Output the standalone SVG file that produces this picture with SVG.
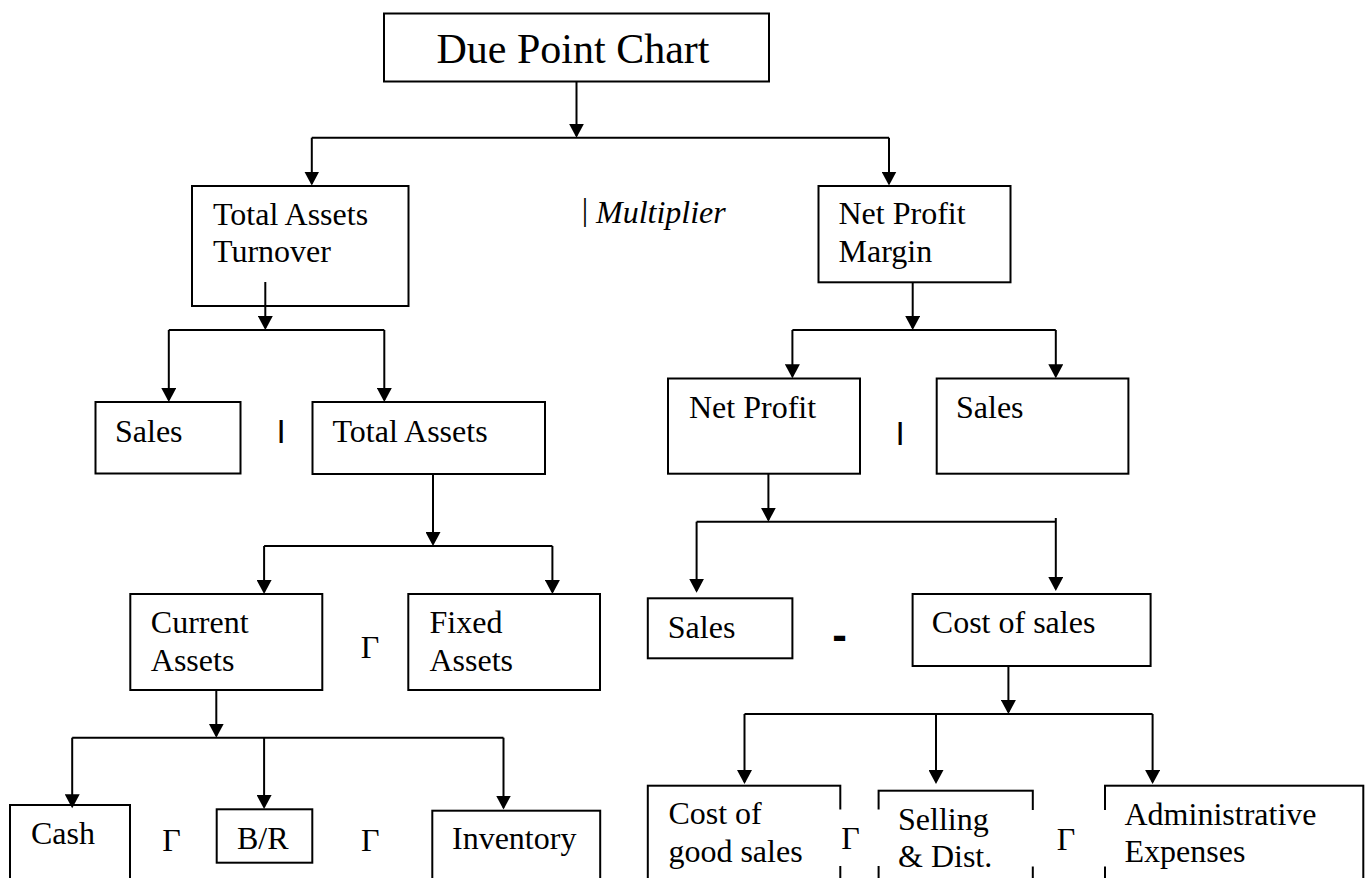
<svg xmlns="http://www.w3.org/2000/svg" width="1371" height="878" viewBox="0 0 1371 878">
<defs>
<style>
.box{fill:#fff;stroke:#000;stroke-width:2}
.t{font-family:"Liberation Serif","Times New Roman",serif;font-size:32px;fill:#000}
.title{font-size:42px}
.it{font-style:italic}
.bar{font-family:"Liberation Sans",Arial,sans-serif;font-weight:bold;font-size:24px;text-anchor:middle;fill:#000}
.minus{font-family:"Liberation Sans",Arial,sans-serif;font-weight:bold;font-size:44px;text-anchor:middle;fill:#000}
.c{fill:none;stroke:#000;stroke-width:2}
.arr{marker-end:url(#ah)}
.mask{fill:#fff;stroke:none}
</style>
<marker id="ah" markerUnits="userSpaceOnUse" markerWidth="15" markerHeight="15" refX="12" refY="7.5" orient="auto"><path d="M0,0 L14,7.5 L0,15 z" fill="#000"/></marker>
</defs>
<rect width="1371" height="878" fill="#fff"/>

<g id="node-title"><rect class="box" x="384" y="13.5" width="385" height="68"/><text class="t title" x="436.5" y="63">Due Point Chart</text></g>
<g id="node-total-assets-turnover"><rect class="box" x="192" y="186" width="216.5" height="120"/><text class="t"><tspan x="213" y="225">Total Assets</tspan><tspan x="213" y="262">Turnover</tspan></text></g>
<g id="op-multiplier"><text class="t" x="585" y="220" text-anchor="middle">|</text><text class="t it" x="596" y="223">Multiplier</text></g>
<g id="node-net-profit-margin"><rect class="box" x="818.5" y="186" width="192" height="96.3"/><text class="t"><tspan x="838.5" y="224.3">Net Profit</tspan><tspan x="838.5" y="261.7">Margin</tspan></text></g>

<g id="node-sales-1"><rect class="box" x="95.5" y="402" width="145" height="71.5"/><text class="t" x="115" y="441.7">Sales</text></g>
<g id="op-div-1"><text class="bar" x="281" y="438.3">|</text></g>
<g id="node-total-assets"><rect class="box" x="312.5" y="402" width="232.5" height="72"/><text class="t" x="332.5" y="441.7">Total Assets</text></g>

<g id="node-net-profit"><rect class="box" x="668" y="378.5" width="192" height="95.2"/><text class="t" x="689" y="417.5">Net Profit</text></g>
<g id="op-div-2"><text class="bar" x="900" y="440">|</text></g>
<g id="node-sales-2"><rect class="box" x="936.7" y="378.5" width="191.7" height="95.2"/><text class="t" x="956" y="417.5">Sales</text></g>

<g id="node-current-assets"><rect class="box" x="130.3" y="594" width="192" height="96"/><text class="t"><tspan x="150.8" y="633.3">Current</tspan><tspan x="150.8" y="670.7">Assets</tspan></text></g>
<g id="op-plus-1"><text class="t" x="360.7" y="657.7">Γ</text></g>
<g id="node-fixed-assets"><rect class="box" x="408.3" y="594" width="191.7" height="96"/><text class="t"><tspan x="429.5" y="633.3">Fixed</tspan><tspan x="429.5" y="670.7">Assets</tspan></text></g>

<g id="node-sales-3"><rect class="box" x="647.8" y="598.3" width="144.6" height="60"/><text class="t" x="667.8" y="638.3">Sales</text></g>
<g id="op-minus"><text class="minus" x="839.5" y="650">-</text></g>
<g id="node-cost-of-sales"><rect class="box" x="912.6" y="594" width="238" height="72"/><text class="t" x="931.8" y="633.3">Cost of sales</text></g>

<g id="node-cash"><rect class="box" x="10" y="805" width="120" height="90"/><text class="t" x="31" y="844.3">Cash</text></g>
<g id="op-plus-2"><text class="t" x="162.3" y="851">Γ</text></g>
<g id="node-br"><rect class="box" x="216.7" y="809.3" width="95.6" height="53.4"/><text class="t" x="237" y="849">B/R</text></g>
<g id="op-plus-3"><text class="t" x="361" y="851">Γ</text></g>
<g id="node-inventory"><rect class="box" x="432.3" y="810.7" width="167.9" height="90"/><text class="t" x="452" y="849.3">Inventory</text></g>

<g id="node-cost-of-good-sales"><rect class="box" x="647.8" y="785.7" width="192.5" height="110"/><text class="t"><tspan x="668.4" y="824.3">Cost of</tspan><tspan x="668.4" y="861.7">good sales</tspan></text></g>
<g id="node-selling-dist"><rect class="box" x="878.6" y="790.7" width="154.2" height="110"/><text class="t"><tspan x="898" y="830">Selling</tspan><tspan x="898" y="866.7">&amp; Dist.</tspan></text></g>
<g id="node-administrative-expenses"><rect class="box" x="1105" y="785.7" width="258.3" height="110"/><text class="t"><tspan x="1124.5" y="825">Administrative</tspan><tspan x="1124.5" y="862">Expenses</tspan></text></g>
<g id="op-plus-4"><rect class="mask" x="835" y="809.5" width="49" height="56.5"/><text class="t" x="841.3" y="849.3">Γ</text></g>
<g id="op-plus-5"><rect class="mask" x="1027" y="810" width="83" height="56.5"/><text class="t" x="1056.8" y="849.5">Γ</text></g>

<g id="connectors">
<path class="c arr" d="M576.5,82 V135.7"/>
<path class="c" d="M311.8,137.7 H889"/>
<path class="c arr" d="M311.8,137.7 V183.5"/>
<path class="c arr" d="M889,137.7 V183.5"/>

<path class="c arr" d="M265.3,282 V328"/>
<path class="c" d="M168.8,330 H384.3"/>
<path class="c arr" d="M168.8,330 V400"/>
<path class="c arr" d="M384.3,330 V400"/>

<path class="c arr" d="M912.7,282.3 V328"/>
<path class="c" d="M792.4,330 H1055.8"/>
<path class="c arr" d="M792.4,330 V376.3"/>
<path class="c arr" d="M1055.8,330 V376.3"/>

<path class="c arr" d="M433,474 V544"/>
<path class="c" d="M264.1,546 H552.4"/>
<path class="c arr" d="M264.1,546 V592"/>
<path class="c arr" d="M552.4,546 V592"/>

<path class="c arr" d="M768.4,473.7 V519.7"/>
<path class="c" d="M696.6,521.7 H1055.8"/>
<path class="c arr" d="M696.6,521.7 V590.7"/>
<path class="c arr" d="M1055.8,518 V589"/>

<path class="c arr" d="M216.3,690 V735.7"/>
<path class="c" d="M72.2,737.7 H503.5"/>
<path class="c arr" d="M72.2,737.7 V806.3"/>
<path class="c arr" d="M264.1,737.7 V807"/>
<path class="c arr" d="M503.5,737.7 V807.5"/>

<path class="c arr" d="M1008.4,666 V712"/>
<path class="c" d="M744.5,714 H1152.6"/>
<path class="c arr" d="M744.5,714 V782"/>
<path class="c arr" d="M936,714 V782"/>
<path class="c arr" d="M1152.6,714 V782"/>
</g>
</svg>
